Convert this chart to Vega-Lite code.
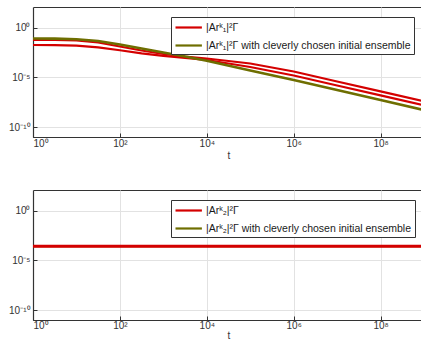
{
  "$schema": "https://vega.github.io/schema/vega-lite/v6.json",
  "padding": {"left": 2, "top": 6, "right": 0, "bottom": 0},
  "background": "white",
  "datasets": {
    "top": [
      {"series": "|Arᵏ₁|²Γ", "line": "A", "t": 1, "y": 0.0604},
      {"series": "|Arᵏ₁|²Γ", "line": "A", "t": 3.16, "y": 0.0591},
      {"series": "|Arᵏ₁|²Γ", "line": "A", "t": 10, "y": 0.0514},
      {"series": "|Arᵏ₁|²Γ", "line": "A", "t": 31.6, "y": 0.0324},
      {"series": "|Arᵏ₁|²Γ", "line": "A", "t": 100, "y": 0.0128},
      {"series": "|Arᵏ₁|²Γ", "line": "A", "t": 316, "y": 0.00506},
      {"series": "|Arᵏ₁|²Γ", "line": "A", "t": 1000, "y": 0.00225},
      {"series": "|Arᵏ₁|²Γ", "line": "A", "t": 3162, "y": 0.00126},
      {"series": "|Arᵏ₁|²Γ", "line": "A", "t": 10000, "y": 0.000791},
      {"series": "|Arᵏ₁|²Γ", "line": "A", "t": 100000, "y": 0.000248},
      {"series": "|Arᵏ₁|²Γ", "line": "A", "t": 1000000, "y": 0.0000388},
      {"series": "|Arᵏ₁|²Γ", "line": "A", "t": 10000000, "y": 0.00000382},
      {"series": "|Arᵏ₁|²Γ", "line": "A", "t": 100000000, "y": 0.000000394},
      {"series": "|Arᵏ₁|²Γ", "line": "A", "t": 1000000000, "y": 0.0000000396},
      {"series": "|Arᵏ₁|²Γ", "line": "B", "t": 1, "y": 0.0181},
      {"series": "|Arᵏ₁|²Γ", "line": "B", "t": 3.16, "y": 0.0177},
      {"series": "|Arᵏ₁|²Γ", "line": "B", "t": 10, "y": 0.0157},
      {"series": "|Arᵏ₁|²Γ", "line": "B", "t": 31.6, "y": 0.0106},
      {"series": "|Arᵏ₁|²Γ", "line": "B", "t": 100, "y": 0.0053},
      {"series": "|Arᵏ₁|²Γ", "line": "B", "t": 316, "y": 0.00264},
      {"series": "|Arᵏ₁|²Γ", "line": "B", "t": 1000, "y": 0.00148},
      {"series": "|Arᵏ₁|²Γ", "line": "B", "t": 3162, "y": 0.000931},
      {"series": "|Arᵏ₁|²Γ", "line": "B", "t": 10000, "y": 0.000558},
      {"series": "|Arᵏ₁|²Γ", "line": "B", "t": 100000, "y": 0.00011},
      {"series": "|Arᵏ₁|²Γ", "line": "B", "t": 1000000, "y": 0.0000153},
      {"series": "|Arᵏ₁|²Γ", "line": "B", "t": 10000000, "y": 0.00000151},
      {"series": "|Arᵏ₁|²Γ", "line": "B", "t": 100000000, "y": 0.000000152},
      {"series": "|Arᵏ₁|²Γ", "line": "B", "t": 1000000000, "y": 0.0000000153},
      {"series": "|Arᵏ₁|²Γ with cleverly chosen initial ensemble", "line": "C", "t": 1, "y": 0.0817},
      {"series": "|Arᵏ₁|²Γ with cleverly chosen initial ensemble", "line": "C", "t": 3.16, "y": 0.0798},
      {"series": "|Arᵏ₁|²Γ with cleverly chosen initial ensemble", "line": "C", "t": 10, "y": 0.0695},
      {"series": "|Arᵏ₁|²Γ with cleverly chosen initial ensemble", "line": "C", "t": 31.6, "y": 0.0458},
      {"series": "|Arᵏ₁|²Γ with cleverly chosen initial ensemble", "line": "C", "t": 100, "y": 0.0203},
      {"series": "|Arᵏ₁|²Γ with cleverly chosen initial ensemble", "line": "C", "t": 316, "y": 0.00804},
      {"series": "|Arᵏ₁|²Γ with cleverly chosen initial ensemble", "line": "C", "t": 1000, "y": 0.00318},
      {"series": "|Arᵏ₁|²Γ with cleverly chosen initial ensemble", "line": "C", "t": 3162, "y": 0.00126},
      {"series": "|Arᵏ₁|²Γ with cleverly chosen initial ensemble", "line": "C", "t": 10000, "y": 0.000465},
      {"series": "|Arᵏ₁|²Γ with cleverly chosen initial ensemble", "line": "C", "t": 100000, "y": 0.000049},
      {"series": "|Arᵏ₁|²Γ with cleverly chosen initial ensemble", "line": "C", "t": 1000000, "y": 0.00000541},
      {"series": "|Arᵏ₁|²Γ with cleverly chosen initial ensemble", "line": "C", "t": 10000000, "y": 0.000000532},
      {"series": "|Arᵏ₁|²Γ with cleverly chosen initial ensemble", "line": "C", "t": 100000000, "y": 0.0000000524},
      {"series": "|Arᵏ₁|²Γ with cleverly chosen initial ensemble", "line": "C", "t": 1000000000, "y": 0.00000000515}
    ],
    "bottom": [
      {"series": "|Arᵏ₂|²Γ", "line": "A", "t": 1, "y": 0.00026},
      {"series": "|Arᵏ₂|²Γ", "line": "A", "t": 1000000000, "y": 0.00026},
      {"series": "|Arᵏ₂|²Γ with cleverly chosen initial ensemble", "line": "C", "t": 1, "y": 0.00026},
      {"series": "|Arᵏ₂|²Γ with cleverly chosen initial ensemble", "line": "C", "t": 1000000000, "y": 0.00026}
    ]
  },
  "vconcat": [
    {
      "width": 391,
      "height": 130,
      "data": {"name": "top"},
      "encoding": {
        "x": {"field": "t", "type": "quantitative", "scale": {"type": "log", "domain": [1, 1000000000], "nice": false},
          "axis": {"title": "t", "values": [1, 100, 10000, 1000000, 100000000],
            "labelExpr": "datum.value < 10 ? '10⁰' : datum.value < 1000 ? '10²' : datum.value < 100000 ? '10⁴' : datum.value < 10000000 ? '10⁶' : '10⁸'"}},
        "y": {"field": "y", "type": "quantitative", "scale": {"type": "log", "domain": [1e-11, 120], "nice": false},
          "axis": {"title": null, "values": [1e-10, 1e-5, 1],
            "labelExpr": "datum.value < 1e-7 ? '10⁻¹⁰' : datum.value < 0.1 ? '10⁻⁵' : '10⁰'"}},
        "color": {"field": "series", "type": "nominal",
          "scale": {"domain": ["|Arᵏ₁|²Γ", "|Arᵏ₁|²Γ with cleverly chosen initial ensemble"], "range": ["#d40000", "#6e6e00"]},
          "legend": {"orient": "none", "legendX": 138, "legendY": 10}},
        "detail": {"field": "line"}
      },
      "layer": [
        {"transform": [{"filter": "datum.line != 'C'"}], "mark": {"type": "line", "strokeWidth": 2.2, "clip": true}},
        {"transform": [{"filter": "datum.line == 'C'"}], "mark": {"type": "line", "strokeWidth": 2.6, "clip": true}}
      ]
    },
    {
      "width": 391,
      "height": 130,
      "data": {"name": "bottom"},
      "encoding": {
        "x": {"field": "t", "type": "quantitative", "scale": {"type": "log", "domain": [1, 1000000000], "nice": false},
          "axis": {"title": "t", "values": [1, 100, 10000, 1000000, 100000000], "labelPadding": 4, "titlePadding": 0,
            "labelExpr": "datum.value < 10 ? '10⁰' : datum.value < 1000 ? '10²' : datum.value < 100000 ? '10⁴' : datum.value < 10000000 ? '10⁶' : '10⁸'"}},
        "y": {"field": "y", "type": "quantitative", "scale": {"type": "log", "domain": [1e-11, 120], "nice": false},
          "axis": {"title": null, "values": [1e-10, 1e-5, 1],
            "labelExpr": "datum.value < 1e-7 ? '10⁻¹⁰' : datum.value < 0.1 ? '10⁻⁵' : '10⁰'"}},
        "color": {"field": "series", "type": "nominal",
          "scale": {"domain": ["|Arᵏ₂|²Γ", "|Arᵏ₂|²Γ with cleverly chosen initial ensemble"], "range": ["#d40000", "#6e6e00"]},
          "legend": {"orient": "none", "legendX": 138, "legendY": 10}},
        "detail": {"field": "line"}
      },
      "layer": [
        {"transform": [{"filter": "datum.line == 'C'"}], "mark": {"type": "line", "strokeWidth": 2, "clip": true}},
        {"transform": [{"filter": "datum.line != 'C'"}], "mark": {"type": "line", "strokeWidth": 3, "clip": true}}
      ]
    }
  ],
  "spacing": 28,
  "resolve": {"scale": {"color": "independent"}, "legend": {"color": "independent"}},
  "config": {
    "font": "Liberation Sans",
    "view": {"stroke": "#333333", "strokeWidth": 1},
    "axis": {
      "grid": true, "gridColor": "#e2e2e2", "gridWidth": 1,
      "domainColor": "#333333", "domainWidth": 1.2,
      "tickColor": "#333333", "tickSize": -4, "labelPadding": 7,
      "labelColor": "#333333", "labelFontSize": 10, "labelFont": "Liberation Sans",
      "titleFontSize": 10, "titleFontWeight": "normal", "titleColor": "#333333", "titlePadding": 2
    },
    "axisX": {"labelPadding": 5},
    "axisY": {"labelPadding": 7, "minExtent": 30, "maxExtent": 30},
    "legend": {
      "title": null, "strokeColor": "#333333", "fillColor": "white", "padding": 3,
      "symbolType": "M-1,0H3.4", "symbolSize": 144, "symbolStrokeWidth": 2.2,
      "labelFontSize": 10.5, "labelColor": "#1a1a1a", "labelFont": "Liberation Sans",
      "labelOffset": 17, "rowPadding": 5, "labelLimit": 400
    }
  }
}
